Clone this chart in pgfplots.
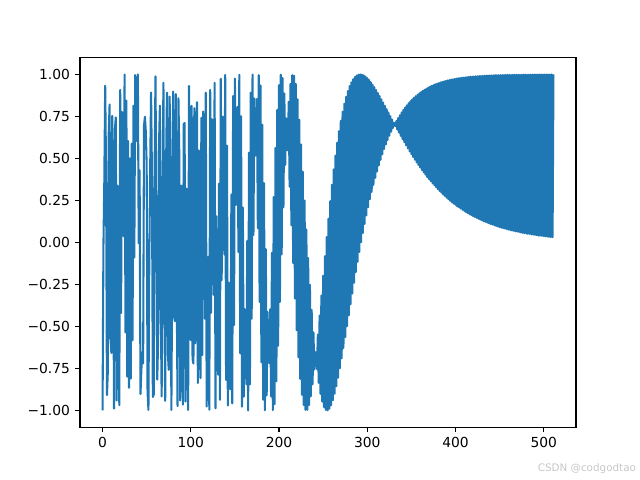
\documentclass[border=0pt]{standalone}
\usepackage{fontspec}
\setmainfont{DejaVu Sans}
\usepackage{pgfplots}
\pgfplotsset{compat=1.18}
\definecolor{mplblue}{HTML}{1F77B4}
\begin{document}
\begin{tikzpicture}
\useasboundingbox (-57.6bp,-38.016bp) rectangle (403.2bp,307.584bp);
\begin{axis}[
  at={(0,0)}, anchor=south west,
  width=357.12bp, height=266.112bp, scale only axis,
  xmin=-25.55, xmax=536.55, ymin=-1.1, ymax=1.1,
  xtick={0,100,200,300,400,500},
  xticklabels={0,100,200,300,400,500},
  ytick={-1,-0.75,-0.5,-0.25,0,0.25,0.5,0.75,1},
  yticklabels={−1.00,−0.75,−0.50,−0.25,0.00,0.25,0.50,0.75,1.00},
  tick pos=left, tick align=outside,
  major tick length=3.5bp,
  every tick/.style={black, line width=0.8bp},
  axis line style={line width=0.8bp},
  tick label style={font=\fontsize{10}{12}\selectfont},
  xticklabel style={inner sep=0pt, yshift=-3.5bp, anchor=north},
  yticklabel style={inner sep=0pt, xshift=-3.5bp, anchor=east},
  clip=true,
]
\addplot[color=mplblue, line width=1.5bp, line join=round, mark=none] table {
x y
0 -1.000
1 -0.022
2 0.363
3 0.932
4 0.417
5 -0.909
6 -0.765
7 0.644
8 0.821
9 -0.571
10 -0.658
11 0.753
12 0.149
13 -0.989
14 0.668
15 0.744
16 -0.941
17 0.338
18 -0.246
19 -0.969
20 0.908
21 -0.420
22 0.777
23 0.630
24 0.036
25 0.999
26 -0.536
27 0.844
28 -0.798
29 0.603
30 -0.866
31 0.500
32 -0.810
33 0.587
34 -0.583
35 0.813
36 -0.090
37 0.996
38 0.602
39 0.799
40 1.000
41 -0.006
42 0.430
43 -0.903
44 -0.757
45 -0.653
46 -0.720
47 0.694
48 0.748
49 0.663
50 0.465
51 -0.885
52 -0.997
53 -0.084
54 0.451
55 0.892
56 0.393
57 -0.920
58 -0.906
59 0.424
60 0.988
61 0.155
62 -0.816
63 -0.578
64 0.582
65 0.814
66 -0.398
67 -0.917
68 0.312
69 0.950
70 -0.333
71 -0.943
72 0.454
73 0.891
74 -0.652
75 -0.759
76 0.868
77 0.497
78 -0.997
79 -0.080
80 0.898
81 -0.440
82 -0.469
83 0.883
84 -0.227
85 -0.974
86 0.858
87 0.514
88 -0.941
89 0.338
90 0.259
91 -0.966
92 0.703
93 0.711
94 -0.948
95 0.320
96 0.059
97 -0.998
98 0.931
99 0.365
100 -0.582
101 0.813
102 -0.694
103 -0.721
104 0.799
105 -0.601
106 0.551
107 0.835
108 -0.837
109 0.547
110 -0.590
111 -0.808
112 0.741
113 -0.671
114 0.779
115 0.627
116 -0.454
117 0.891
118 -0.977
119 -0.214
120 -0.086
121 -0.996
122 0.908
123 -0.419
124 0.733
125 0.681
126 -0.312
127 0.950
128 -0.988
129 0.155
130 -0.617
131 -0.787
132 0.350
133 -0.937
134 0.974
135 -0.225
136 0.749
137 0.663
138 -0.072
139 0.997
140 -0.818
141 0.576
142 -0.971
143 -0.239
144 -0.485
145 -0.875
146 0.285
147 -0.958
148 0.871
149 -0.492
150 0.975
151 0.223
152 0.591
153 0.807
154 -0.057
155 0.998
156 -0.660
157 0.751
158 -0.978
159 0.208
160 -0.918
161 -0.397
162 -0.536
163 -0.844
164 0.009
165 -1.000
166 0.534
167 -0.845
168 0.891
169 -0.454
170 0.999
171 0.044
172 0.857
173 0.516
174 0.521
175 0.854
176 0.085
177 0.996
178 -0.355
179 0.935
180 -0.713
181 0.701
182 -0.936
183 0.353
184 -0.999
185 -0.040
186 -0.910
187 -0.414
188 -0.696
189 -0.718
190 -0.398
191 -0.917
192 -0.062
193 -0.998
194 0.270
195 -0.963
196 0.562
197 -0.827
198 0.789
199 -0.615
200 0.936
201 -0.354
202 0.998
203 -0.071
204 0.978
205 0.208
206 0.887
207 0.462
208 0.739
209 0.674
210 0.548
211 0.837
212 0.331
213 0.944
214 0.103
215 0.995
216 -0.122
217 0.993
218 -0.334
219 0.943
220 -0.523
221 0.852
222 -0.684
223 0.730
224 -0.812
225 0.583
226 -0.907
227 0.421
228 -0.968
229 0.249
230 -0.997
231 0.077
232 -0.996
233 -0.093
234 -0.968
235 -0.253
236 -0.916
237 -0.402
238 -0.845
239 -0.535
240 -0.757
241 -0.653
242 -0.658
243 -0.754
244 -0.549
245 -0.836
246 -0.435
247 -0.901
248 -0.317
249 -0.948
250 -0.199
251 -0.980
252 -0.082
253 -0.997
254 0.032
255 -1.000
256 0.141
257 -0.990
258 0.245
259 -0.970
260 0.343
261 -0.939
262 0.434
263 -0.901
264 0.517
265 -0.856
266 0.594
267 -0.805
268 0.662
269 -0.749
270 0.724
271 -0.690
272 0.778
273 -0.628
274 0.826
275 -0.564
276 0.867
277 -0.499
278 0.901
279 -0.434
280 0.930
281 -0.368
282 0.953
283 -0.304
284 0.971
285 -0.240
286 0.984
287 -0.177
288 0.993
289 -0.116
290 0.998
291 -0.057
292 1.000
293 0.001
294 0.998
295 0.056
296 0.994
297 0.110
298 0.987
299 0.161
300 0.978
301 0.210
302 0.967
303 0.257
304 0.954
305 0.301
306 0.939
307 0.343
308 0.924
309 0.384
310 0.907
311 0.422
312 0.889
313 0.458
314 0.871
315 0.492
316 0.852
317 0.524
318 0.833
319 0.556
320 0.813
321 0.583
322 0.793
323 0.609
324 0.773
325 0.635
326 0.752
327 0.659
328 0.732
329 0.681
330 0.712
331 0.702
332 0.692
333 0.722
334 0.672
335 0.740
336 0.653
337 0.757
338 0.634
339 0.774
340 0.615
341 0.789
342 0.596
343 0.803
344 0.578
345 0.816
346 0.560
347 0.829
348 0.542
349 0.840
350 0.525
351 0.851
352 0.509
353 0.861
354 0.492
355 0.870
356 0.476
357 0.879
358 0.461
359 0.888
360 0.446
361 0.895
362 0.431
363 0.902
364 0.417
365 0.909
366 0.403
367 0.915
368 0.389
369 0.921
370 0.376
371 0.926
372 0.364
373 0.932
374 0.351
375 0.936
376 0.340
377 0.941
378 0.328
379 0.945
380 0.317
381 0.948
382 0.306
383 0.952
384 0.296
385 0.955
386 0.285
387 0.958
388 0.276
389 0.961
390 0.266
391 0.964
392 0.257
393 0.966
394 0.248
395 0.969
396 0.239
397 0.971
398 0.231
399 0.973
400 0.223
401 0.975
402 0.215
403 0.977
404 0.208
405 0.978
406 0.201
407 0.980
408 0.194
409 0.981
410 0.187
411 0.982
412 0.180
413 0.984
414 0.174
415 0.985
416 0.168
417 0.986
418 0.162
419 0.987
420 0.156
421 0.988
422 0.151
423 0.989
424 0.146
425 0.989
426 0.141
427 0.990
428 0.136
429 0.991
430 0.131
431 0.991
432 0.126
433 0.992
434 0.122
435 0.993
436 0.118
437 0.993
438 0.113
439 0.994
440 0.109
441 0.994
442 0.106
443 0.994
444 0.102
445 0.995
446 0.098
447 0.995
448 0.095
449 0.996
450 0.091
451 0.996
452 0.088
453 0.996
454 0.085
455 0.996
456 0.082
457 0.997
458 0.079
459 0.997
460 0.076
461 0.997
462 0.074
463 0.997
464 0.071
465 0.997
466 0.069
467 0.998
468 0.066
469 0.998
470 0.064
471 0.998
472 0.062
473 0.998
474 0.059
475 0.998
476 0.057
477 0.998
478 0.055
479 0.998
480 0.053
481 0.999
482 0.051
483 0.999
484 0.050
485 0.999
486 0.048
487 0.999
488 0.046
489 0.999
490 0.045
491 0.999
492 0.043
493 0.999
494 0.041
495 0.999
496 0.040
497 0.999
498 0.039
499 0.999
500 0.037
501 0.999
502 0.036
503 0.999
504 0.035
505 0.999
506 0.033
507 0.999
508 0.032
509 1.000
510 0.031
511 1.000
};
\end{axis}
\node[anchor=south east, inner sep=0pt, text=black!22, font=\fontsize{7.5}{9}\selectfont] at (400.5bp,-33.5bp) {CSDN @codgodtao};
\end{tikzpicture}
\end{document}
